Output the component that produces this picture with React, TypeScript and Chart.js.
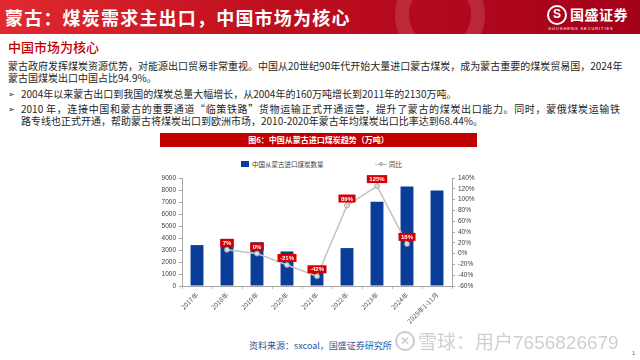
import React, { useEffect, useRef } from 'react';
import { Chart, registerables } from 'chart.js';
Chart.register(...registerables);

const categories = ['2017年', '2018年', '2019年', '2020年', '2021年', '2022年', '2023年', '2024年', '2025年1-11月'];
const importVolume = [3410, 3650, 3650, 2880, 1670, 3160, 7030, 8300, 7950];
const yoyPct: (number | null)[] = [null, 7, 0, -21, -42, 89, 125, 18, null];
const seriesNames = ['中国从蒙古进口煤炭数量', '同比'];

const CJK = '"Noto Sans CJK SC", "Liberation Sans", sans-serif';
const NUM = '"Liberation Sans", Arial, sans-serif';
const BAR_COLOR = '#0a3d99';
const LINE_COLOR = '#c4c4c4';

const labelPlugin = {
  id: 'yoyLabels',
  afterDatasetsDraw(chart: any) {
    const meta = chart.getDatasetMeta(1);
    const ctx = chart.ctx;
    ctx.save();
    ctx.font = `bold 6px ${NUM}`;
    meta.data.forEach((pt: any, i: number) => {
      const v = yoyPct[i];
      if (v == null) return;
      const text = `${v}%`;
      const w = ctx.measureText(text).width + 5;
      const h = 8;
      const cx = pt.x;
      const cy = pt.y - 7;
      ctx.fillStyle = '#d40000';
      ctx.fillRect(cx - w / 2, cy - h / 2, w, h);
      ctx.fillStyle = '#ffffff';
      ctx.textAlign = 'center';
      ctx.textBaseline = 'middle';
      ctx.fillText(text, cx, cy + 0.5);
    });
    ctx.restore();
  },
};

function CoalChart() {
  const ref = useRef<HTMLCanvasElement | null>(null);
  useEffect(() => {
    if (!ref.current) return;
    const tickFont = { size: 6.5, family: NUM };
    const chart = new Chart(ref.current, {
      type: 'bar',
      data: {
        labels: categories,
        datasets: [
          {
            type: 'bar',
            label: seriesNames[0],
            data: importVolume,
            backgroundColor: BAR_COLOR,
            yAxisID: 'y',
            categoryPercentage: 1,
            barPercentage: 0.43,
            order: 1,
          },
          {
            type: 'line',
            label: seriesNames[1],
            data: yoyPct,
            borderColor: LINE_COLOR,
            borderWidth: 1.6,
            pointRadius: 2.5,
            pointBackgroundColor: '#dcdcdc',
            pointBorderColor: '#a0a0a0',
            pointBorderWidth: 0.8,
            yAxisID: 'y1',
            order: 0,
            tension: 0,
          } as any,
        ],
      },
      options: {
        responsive: false,
        animation: false,
        layout: { padding: { top: 23, left: 0, right: 0, bottom: 0 } },
        plugins: { legend: { display: false }, tooltip: { enabled: false } },
        scales: {
          x: {
            offset: true,
            grid: { display: true, drawOnChartArea: false, offset: true, tickLength: 3, color: '#bfbfbf' },
            border: { color: '#a6a6a6' },
            ticks: { maxRotation: 45, minRotation: 45, autoSkip: false, font: { size: 6.5, family: CJK }, color: '#595959', padding: 2 },
            afterFit: (s: any) => { s.height = 49; },
          },
          y: {
            position: 'left',
            min: 0,
            max: 9000,
            ticks: { stepSize: 1000, font: tickFont, color: '#404040', padding: 3, callback: (v: any) => `${v}` },
            grid: { drawOnChartArea: false, tickLength: 3, color: '#a6a6a6' },
            border: { color: '#a6a6a6' },
            afterFit: (s: any) => { s.width = 42; },
          },
          y1: {
            position: 'right',
            min: -60,
            max: 140,
            ticks: { stepSize: 20, font: tickFont, color: '#404040', padding: 3, callback: (v: any) => `${v}%` },
            grid: { drawOnChartArea: false, tickLength: 3, color: '#a6a6a6' },
            border: { color: '#a6a6a6' },
            afterFit: (s: any) => { s.width = 33; },
          },
        },
      } as any,
      plugins: [labelPlugin],
    });
    return () => chart.destroy();
  }, []);
  return <canvas ref={ref} width={345} height={180} style={{ position: 'absolute', left: 140, top: 155, width: 345, height: 180 }} />;
}

const abs = (left: number, top: number, extra: React.CSSProperties = {}): React.CSSProperties => ({
  position: 'absolute', left, top, whiteSpace: 'nowrap', ...extra,
});

export default function App() {
  const body: React.CSSProperties = { fontFamily: CJK, fontSize: 10, lineHeight: '12px', color: '#262626' };
  return (
    <div lang="zh-CN" style={{ position: 'absolute', left: 0, top: 0, width: 640, height: 360, background: '#fff', overflow: 'hidden', fontFamily: CJK }}>
      {/* header */}
      <div style={{ position: 'absolute', left: 0, top: 0, width: 640, height: 34, background: 'linear-gradient(90deg, #e12a30 0%, #c0101f 40%, #a3001a 100%)', overflow: 'hidden' }}>
        <div style={{ position: 'absolute', left: 395, top: -30, width: 90, height: 90, borderRadius: '50%', border: '14px solid rgba(255,255,255,0.13)', boxSizing: 'border-box' }} />
        <div style={abs(5, 5, { color: '#fff', fontSize: 18, fontWeight: 700, lineHeight: '24px', letterSpacing: 1.2 })}>蒙古：煤炭需求主出口，中国市场为核心</div>
        <div style={{ position: 'absolute', left: 547, top: 5, width: 20, height: 20, borderRadius: '50%', border: '2.5px solid #fff', boxSizing: 'border-box', color: '#fff', fontSize: 12, fontWeight: 700, lineHeight: '15px', textAlign: 'center', fontFamily: NUM }}>S</div>
        <div style={abs(570, 5, { color: '#fff', fontSize: 14, fontWeight: 700, lineHeight: '18px', letterSpacing: 0.5 })}>国盛证券</div>
        <div style={abs(548, 26, { color: '#fff', fontSize: 4, lineHeight: '5px', letterSpacing: 0.9, fontFamily: NUM })}>GUOSHENG SECURITIES</div>
      </div>

      <div style={abs(8, 39, { color: '#c00000', fontSize: 13, lineHeight: '15px', fontWeight: 500 })}>中国市场为核心</div>

      <div style={{ ...body, ...abs(8, 60), width: 612, textAlign: 'justify', textAlignLast: 'justify' as any }}>蒙古政府发挥煤炭资源优势，对能源出口贸易非常重视。中国从20世纪90年代开始大量进口蒙古煤炭，成为蒙古重要的煤炭贸易国，2024年</div>
      <div style={{ ...body, ...abs(8, 72) }}>蒙古国煤炭出口中国占比94.9%。</div>

      <div style={{ ...body, ...abs(8, 88), fontSize: 8 }}>➢</div>
      <div style={{ ...body, ...abs(21, 88) }}>2004年以来蒙古出口到我国的煤炭总量大幅增长，从2004年的160万吨增长到2011年的2130万吨。</div>

      <div style={{ ...body, ...abs(8, 103), fontSize: 8 }}>➢</div>
      <div style={{ ...body, ...abs(21, 103), width: 599, textAlign: 'justify', textAlignLast: 'justify' as any }}>2010 年，连接中国和蒙古的重要通道“临策铁路”货物运输正式开通运营，提升了蒙古的煤炭出口能力。同时，蒙俄煤炭运输铁</div>
      <div style={{ ...body, ...abs(21, 115) }}>路专线也正式开通，帮助蒙古将煤炭出口到欧洲市场，2010-2020年蒙古年均煤炭出口比率达到68.44%。</div>

      {/* chart banner */}
      <div style={{ position: 'absolute', left: 160, top: 133, width: 317, height: 14, background: '#c00000', color: '#fff', fontSize: 8, fontWeight: 700, lineHeight: '14px', textAlign: 'center' }}>图6：中国从蒙古进口煤炭趋势（万吨）</div>

      {/* legend */}
      <div style={{ position: 'absolute', left: 241, top: 161, width: 8, height: 6, background: BAR_COLOR }} />
      <div style={abs(252, 159, { fontSize: 6.5, lineHeight: '10px', color: '#404040' })}>{seriesNames[0]}</div>
      <div style={{ position: 'absolute', left: 375, top: 163.5, width: 12, height: 1.5, background: LINE_COLOR }} />
      <div style={{ position: 'absolute', left: 379, top: 162, width: 4, height: 4, borderRadius: '50%', background: '#dcdcdc', border: '0.8px solid #a0a0a0', boxSizing: 'border-box' }} />
      <div style={abs(389, 159, { fontSize: 6.5, lineHeight: '10px', color: '#404040' })}>{seriesNames[1]}</div>

      <CoalChart />

      {/* source */}
      <div style={abs(249, 340, { fontSize: 9, lineHeight: '11px', color: '#2f5597' })}>资料来源：sxcoal，国盛证券研究所</div>

      {/* watermark */}
      <div style={{ position: 'absolute', left: 395, top: 331, width: 20, height: 20, borderRadius: '50%', border: '2px solid rgba(170,170,170,0.6)', boxSizing: 'border-box', color: 'rgba(170,170,170,0.7)', fontSize: 12, lineHeight: '16px', textAlign: 'center', fontFamily: NUM }}>✕</div>
      <div style={abs(418, 329, { fontSize: 19, lineHeight: '24px', color: 'rgba(175,175,175,0.6)' })}>雪球：用户<span style={{ fontFamily: NUM }}>7656826679</span></div>

      <div style={abs(632, 349, { fontSize: 6, lineHeight: '8px', color: '#666', fontFamily: NUM })}>1</div>
    </div>
  );
}
